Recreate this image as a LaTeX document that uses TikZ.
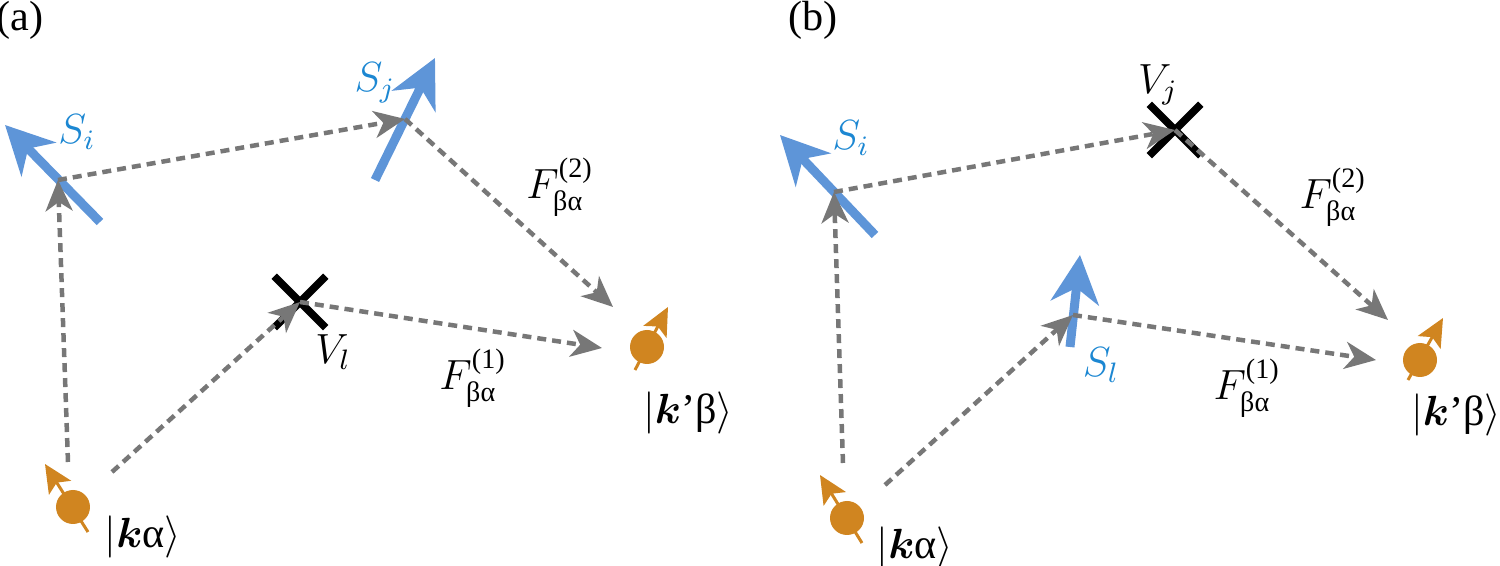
\documentclass[tikz,border=0pt]{standalone}
\usepackage{amsmath}
\usepackage{bm}
\usepackage{fontspec}
\setmainfont{LiberationSerif}[Extension=.ttf, UprightFont=*-Regular,
  BoldFont=*-Bold]
\usepackage{tikz}
\usepackage{xcolor}
\usetikzlibrary{arrows.meta, positioning, shapes.misc}

\definecolor{spinblue}{HTML}{5E95D8}
\definecolor{labelblue}{HTML}{1C87D2}
\definecolor{eorange}{HTML}{D08520}
\definecolor{hopgray}{HTML}{777777}

\newcommand{\ketlbl}[1]{$|$#1$\rangle$}
\newcommand{\Flbl}[1]{$F^{\text{(#1)}}_{\text{βα}}$}

\begin{document}
\begin{tikzpicture}[
    spin/.style={line width=0.9mm, spinblue,
                 -{Stealth[length=4.8mm, width=4.8mm, inset=1.5mm]}},
    hop/.style={line width=0.45mm, hopgray, dash pattern=on 0.9mm off 0.6mm,
                -{Stealth[length=3.1mm, width=2.7mm, inset=0.9mm]}},
    electron/.style={circle, fill=eorange, minimum size=3.4mm, inner sep=0pt},
    espin/.style={line width=0.3mm, eorange,
                  -{Stealth[length=2.8mm, width=2.6mm, inset=0.6mm]}},
    impurity/.style={cross out, draw=black, line width=0.75mm,
                     minimum size=4.4mm, inner sep=0pt},
    lbl/.style={font=\fontsize{12}{14}\selectfont, inner sep=0pt},
    slbl/.style={lbl, text=labelblue}
]
\useasboundingbox (0,0) rectangle (15,-5.66);

% ======== (a) ========
\node[lbl] (taga) at (0.20,-0.20) {(a)};

% ---- local spins and impurity ----
\draw[spin] (1.00,-2.22) -- (0.05,-1.25);
\coordinate (Sia) at (0.58,-1.80);
\draw[spin] (3.75,-1.80) -- (4.35,-0.58);
\coordinate (Sja) at (4.05,-1.19);
\node[impurity] (Vla) at (3.00,-3.02) {};

% ---- conduction electrons ----
\node[electron] (kaa) at (0.73,-5.07) {};
\node[electron] (kba) at (6.47,-3.47) {};
\draw[espin] ([shift={(0.15,-0.25)}]kaa.center) -- ([shift={(-0.28,0.43)}]kaa.center);
\draw[espin] ([shift={(-0.12,-0.23)}]kba.center) -- ([shift={(0.21,0.40)}]kba.center);

% ---- scattering paths ----
\draw[hop] ([shift={(-0.05,0.45)}]kaa.center) -- (Sia);
\draw[hop] (Sia) -- (Sja);
\draw[hop] (Sja) -- ([shift={(-0.34,0.40)}]kba.center);
\draw[hop] ([shift={(0.39,0.35)}]kaa.center) -- (Vla.center);
\draw[hop] (Vla.center) -- ([shift={(-0.45,-0.01)}]kba.center);

% ---- labels ----
\node[slbl] at (0.77,-1.32) {$S_i$};
\node[slbl] at (3.75,-0.83) {$S_j$};
\node[lbl]  at (3.33,-3.52) {$V_l$};
\node[lbl]  at (5.60,-1.87) {\Flbl{2}};
\node[lbl]  at (4.73,-3.78) {\Flbl{1}};
\node[lbl]  at (6.88,-4.13) {\ketlbl{$\bm{k}$’β}};
\node[lbl]  at (1.43,-5.37) {\ketlbl{$\bm{k}$α}};

% ======== (b) ========
\node[lbl] (tagb) at (8.13,-0.20) {(b)};

% ---- local spins and impurity ----
\draw[spin] (8.75,-2.35) -- (7.80,-1.35);
\coordinate (Sib) at (8.34,-1.92);
\draw[spin] (10.70,-3.47) -- (10.80,-2.55);
\coordinate (Slb) at (10.73,-3.15);
\node[impurity] (Vjb) at (11.75,-1.30) {};

% ---- conduction electrons ----
\node[electron] (kab) at (8.47,-5.18) {};
\node[electron] (kbb) at (14.20,-3.60) {};
\draw[espin] ([shift={(0.15,-0.25)}]kab.center) -- ([shift={(-0.27,0.43)}]kab.center);
\draw[espin] ([shift={(-0.12,-0.20)}]kbb.center) -- ([shift={(0.23,0.42)}]kbb.center);

% ---- scattering paths ----
\draw[hop] ([shift={(-0.04,0.55)}]kab.center) -- (Sib);
\draw[hop] (Sib) -- (Vjb.center);
\draw[hop] (Vjb.center) -- ([shift={(-0.32,0.40)}]kbb.center);
\draw[hop] ([shift={(0.38,0.33)}]kab.center) -- (Slb);
\draw[hop] (Slb) -- ([shift={(-0.44,0.00)}]kbb.center);

% ---- labels ----
\node[slbl] at (8.51,-1.38) {$S_i$};
\node[lbl]  at (11.58,-0.85) {$V_j$};
\node[slbl] at (11.01,-3.65) {$S_l$};
\node[lbl]  at (13.33,-1.97) {\Flbl{2}};
\node[lbl]  at (12.47,-3.88) {\Flbl{1}};
\node[lbl]  at (14.56,-4.15) {\ketlbl{$\bm{k}$’β}};
\node[lbl]  at (9.15,-5.48) {\ketlbl{$\bm{k}$α}};

\end{tikzpicture}
\end{document}
